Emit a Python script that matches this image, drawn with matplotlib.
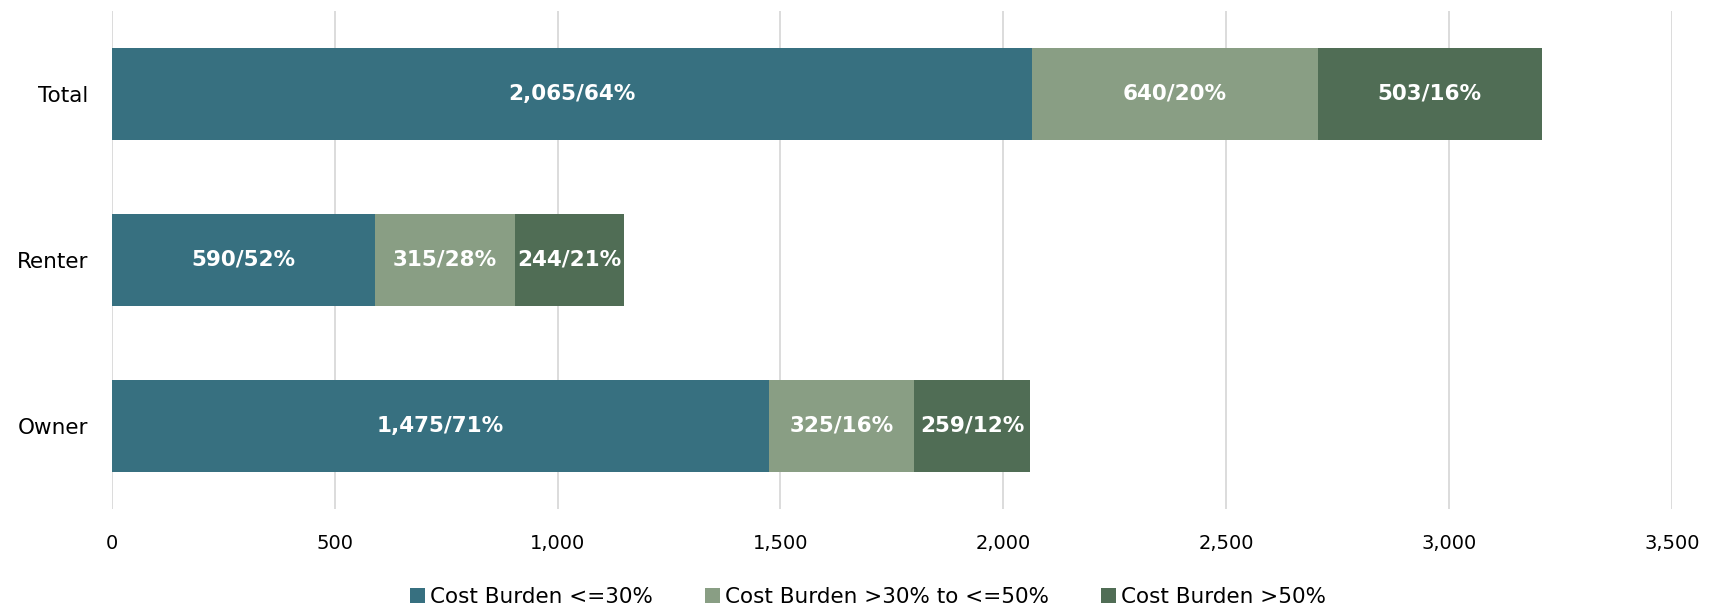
import matplotlib
matplotlib.use("Agg")
import matplotlib.pyplot as plt
from matplotlib.patches import Patch

categories = ["Total", "Renter", "Owner"]
series_names = ["Cost Burden <=30%", "Cost Burden >30% to <=50%", "Cost Burden >50%"]
le30 = [2065, 590, 1475]
mid = [640, 315, 325]
gt50 = [503, 244, 259]
pct_le30 = [64, 52, 71]
pct_mid = [20, 28, 16]
pct_gt50 = [16, 21, 12]
xticks = [0, 500, 1000, 1500, 2000, 2500, 3000, 3500]

colors = ["#377080", "#899E84", "#506D55"]

plt.rcParams['font.family'] = ['DejaVu Sans']

fig = plt.figure(figsize=(17.17, 6.10), dpi=100)
ax = fig.add_axes([0.0651, 0.1656, 0.9087, 0.8164])

ypos = list(range(len(categories)))
series = [le30, mid, gt50]
pcts = [pct_le30, pct_mid, pct_gt50]
left = [0] * len(categories)
for vals, pc, col in zip(series, pcts, colors):
    bars = ax.barh(ypos, vals, left=left, height=0.556, color=col, zorder=3)
    for b, v, p in zip(bars, vals, pc):
        ax.text(b.get_x() + b.get_width() / 2, b.get_y() + b.get_height() / 2,
                f"{v:,}/{p}%", ha="center", va="center", color="white",
                fontsize=15.5, fontweight="bold", zorder=4)
    left = [l + v for l, v in zip(left, vals)]

ax.set_ylim(2.5, -0.5)
ax.set_xlim(0, 3500)
ax.set_xticks(xticks)
ax.set_xticklabels([f"{t:,}" for t in xticks], fontsize=14, color="#000000")
ax.set_yticks(ypos)
ax.set_yticklabels(categories, fontsize=15.5, color="#000000")
ax.grid(axis="x", color="#D9D9D9", linewidth=1.3, zorder=0)
for s in ax.spines.values():
    s.set_visible(False)
ax.tick_params(axis="both", length=0)
ax.tick_params(axis="x", pad=18)
ax.tick_params(axis="y", pad=17)

handles = [Patch(facecolor=c, edgecolor="none") for c in colors]
fig.legend(handles, series_names, loc="center", bbox_to_anchor=(0.5055, 0.022),
           ncol=3, frameon=False, fontsize=15.5, handlelength=0.7, handleheight=0.7,
           handletextpad=0.25, columnspacing=2.4)

fig.savefig("out.png", dpi=100)
